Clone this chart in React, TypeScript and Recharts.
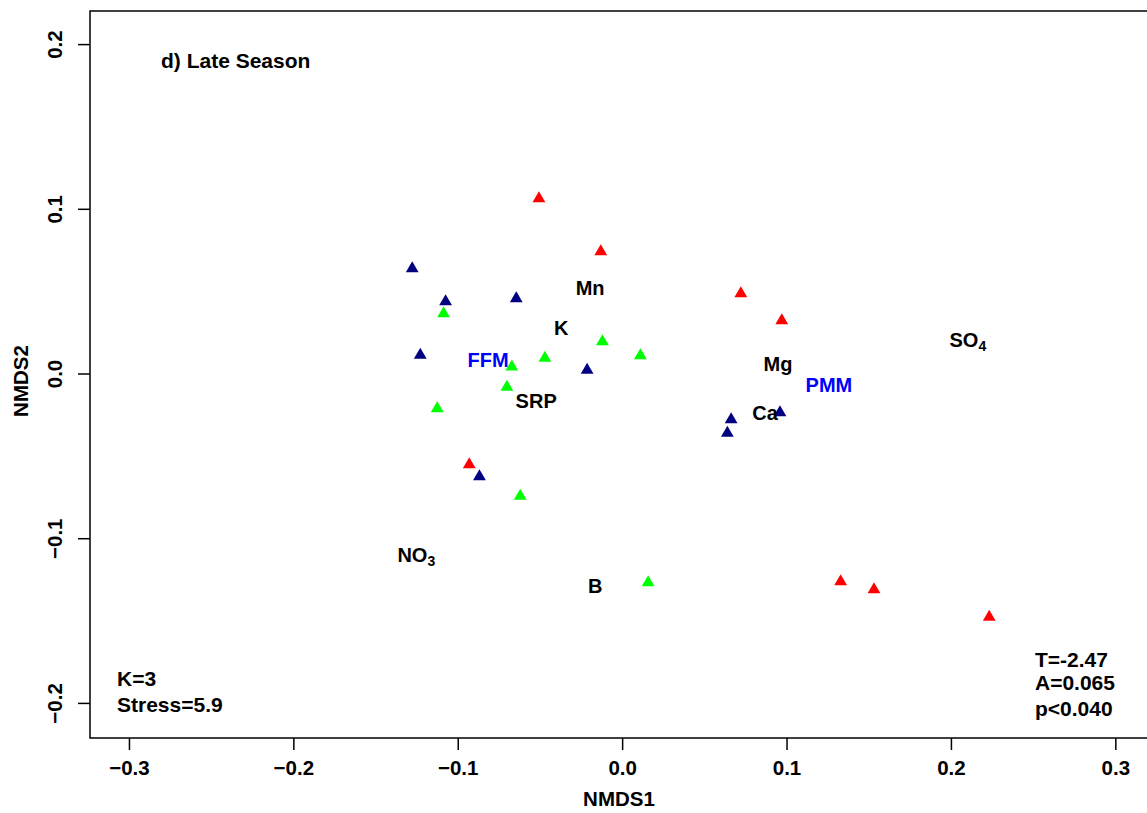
import React from 'react';
import { ScatterChart, Scatter, XAxis, YAxis, ReferenceArea } from 'recharts';

// Late season NMDS site scores by group
const redSites = [
  { x: -0.0509, y: 0.1066 },
  { x: -0.0133, y: 0.0743 },
  { x: 0.0719, y: 0.0489 },
  { x: 0.0968, y: 0.0324 },
  { x: -0.0933, y: -0.0549 },
  { x: 0.1326, y: -0.126 },
  { x: 0.1529, y: -0.1308 },
  { x: 0.223, y: -0.1475 },
];

const navySites = [
  { x: -0.128, y: 0.0641 },
  { x: -0.1077, y: 0.044 },
  { x: -0.0647, y: 0.0458 },
  { x: -0.1231, y: 0.0115 },
  { x: -0.0216, y: 0.0024 },
  { x: 0.066, y: -0.0276 },
  { x: 0.0637, y: -0.0358 },
  { x: 0.0957, y: -0.0234 },
  { x: -0.0871, y: -0.0622 },
];

const greenSites = [
  { x: -0.1089, y: 0.0367 },
  { x: -0.0674, y: 0.0043 },
  { x: -0.0473, y: 0.0097 },
  { x: -0.0123, y: 0.0197 },
  { x: 0.0108, y: 0.0112 },
  { x: -0.0704, y: -0.0079 },
  { x: -0.1128, y: -0.0209 },
  { x: -0.0623, y: -0.0741 },
  { x: 0.0155, y: -0.1266 },
];

// Environmental variable / group centroid labels
const envLabels = [
  { x: -0.0198, y: 0.0522, name: 'Mn', sub: '', color: '#000000' },
  { x: -0.0374, y: 0.0279, name: 'K', sub: '', color: '#000000' },
  { x: -0.0818, y: 0.0085, name: 'FFM', sub: '', color: '#0000FF' },
  { x: -0.0526, y: -0.0164, name: 'SRP', sub: '', color: '#000000' },
  { x: 0.0945, y: 0.0061, name: 'Mg', sub: '', color: '#000000' },
  { x: 0.1255, y: -0.0067, name: 'PMM', sub: '', color: '#0000FF' },
  { x: 0.21, y: 0.0206, name: 'SO', sub: '4', color: '#000000' },
  { x: 0.0866, y: -0.0237, name: 'Ca', sub: '', color: '#000000' },
  { x: -0.1255, y: -0.1099, name: 'NO', sub: '3', color: '#000000' },
  { x: -0.0167, y: -0.1287, name: 'B', sub: '', color: '#000000' },
];

const xTicks = [-0.3, -0.2, -0.1, 0, 0.1, 0.2, 0.3];
const yTicks = [-0.2, -0.1, 0, 0.1, 0.2];
const xDomain = [-0.324, 0.336];
const yDomain = [-0.221, 0.2204];

const FONT = '"Liberation Sans", Arial, Helvetica, sans-serif';

const fmt = (v: number) => {
  const s = Math.abs(v) < 1e-9 ? '0.0' : v.toFixed(1);
  return s.replace('-', '\u2212');
};

const triangle = (color: string) => (props: any) => {
  const { cx, cy } = props;
  if (cx == null || cy == null) return <g />;
  return (
    <polygon
      points={`${cx},${cy - 7.3} ${cx + 6.4},${cy + 3.7} ${cx - 6.4},${cy + 3.7}`}
      fill={color}
      stroke="none"
    />
  );
};

const labelShape = (props: any) => {
  const { cx, cy, payload } = props;
  if (cx == null || cy == null) return <g />;
  return (
    <text
      x={cx}
      y={cy + 7}
      textAnchor="middle"
      fontFamily={FONT}
      fontWeight="bold"
      fontSize={20}
      fill={payload.color}
    >
      <tspan>{payload.name}</tspan>
      {payload.sub ? (
        <tspan fontSize={14} dy={4}>
          {payload.sub}
        </tspan>
      ) : null}
    </text>
  );
};

const XTick = (props: any) => {
  const { x, payload } = props;
  return (
    <text x={x} y={775} textAnchor="middle" fontFamily={FONT} fontWeight="bold" fontSize={20.5} fill="#000">
      {fmt(payload.value)}
    </text>
  );
};

const YTick = (props: any) => {
  const { y, payload } = props;
  return (
    <text
      transform={`translate(55, ${y}) rotate(-90)`}
      x={0}
      y={7}
      textAnchor="middle"
      fontFamily={FONT}
      fontWeight="bold"
      fontSize={20.5}
      fill="#000"
    >
      {fmt(payload.value)}
    </text>
  );
};

const annText = {
  fontFamily: FONT,
  fontWeight: 'bold' as const,
  fontSize: 21,
  fill: '#000',
};

const axisTitle = {
  fontFamily: FONT,
  fontWeight: 'bold' as const,
  fontSize: 20.5,
  fill: '#000',
};

export default function App() {
  return (
    <div
      style={{
        position: 'fixed',
        left: 0,
        top: 0,
        width: 1147,
        height: 813,
        overflow: 'hidden',
        background: '#fff',
      }}
    >
      <ScatterChart
        width={1180}
        height={813}
        margin={{ top: 11, right: 5, bottom: 0, left: 0 }}
      >
        <XAxis
          type="number"
          dataKey="x"
          domain={xDomain}
          ticks={xTicks}
          allowDataOverflow
          axisLine={false}
          tickLine={{ stroke: '#000', strokeWidth: 1.5 }}
          tickSize={12}
          height={75}
          tick={<XTick />}
        />
        <YAxis
          type="number"
          dataKey="y"
          domain={yDomain}
          ticks={yTicks}
          allowDataOverflow
          axisLine={false}
          tickLine={{ stroke: '#000', strokeWidth: 1.5 }}
          tickSize={12}
          width={90}
          tick={<YTick />}
        />
        <ReferenceArea
          x1={xDomain[0]}
          x2={xDomain[1]}
          y1={yDomain[0]}
          y2={yDomain[1]}
          fill="none"
          fillOpacity={0}
          stroke="#000"
          strokeWidth={1.5}
          ifOverflow="visible"
        />
        <Scatter data={redSites} shape={triangle('#FF0000')} isAnimationActive={false} />
        <Scatter data={navySites} shape={triangle('#000080')} isAnimationActive={false} />
        <Scatter data={greenSites} shape={triangle('#00FF00')} isAnimationActive={false} />
        <Scatter data={envLabels} shape={labelShape} isAnimationActive={false} />
      </ScatterChart>
      <svg
        width={1147}
        height={813}
        style={{ position: 'absolute', left: 0, top: 0, pointerEvents: 'none' }}
      >
        <text x={161} y={68} {...annText}>d) Late Season</text>
        <text x={117} y={686} {...annText}>K=3</text>
        <text x={117} y={712} {...annText}>Stress=5.9</text>
        <text x={1035} y={667} {...annText}>T=-2.47</text>
        <text x={1035} y={690} {...annText}>A=0.065</text>
        <text x={1035} y={716} {...annText}>p&lt;0.040</text>
        <text x={619} y={806} textAnchor="middle" {...axisTitle}>NMDS1</text>
        <text transform="translate(28, 381) rotate(-90)" x={0} y={0} textAnchor="middle" {...axisTitle}>
          NMDS2
        </text>
      </svg>
    </div>
  );
}
